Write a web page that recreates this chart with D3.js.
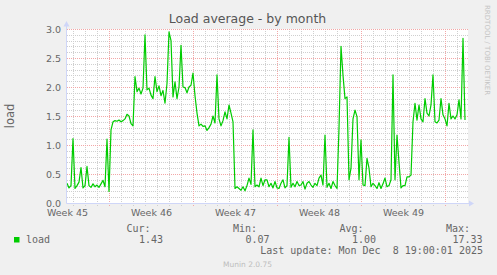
<!DOCTYPE html>
<html>
<head>
<meta charset="utf-8">
<script src="https://cdn.jsdelivr.net/npm/d3@7"></script>
<style>
  html, body { margin: 0; padding: 0; background: #f0f0f0; }
  svg { display: block; }
</style>
</head>
<body>
<div id="chart"></div>
<script>
// load average, one sample every 4 hours across the month window
const loadValues = [
  0.34, 0.26, 0.30, 1.11, 0.25, 0.30, 0.36, 0.61, 0.26, 0.30,
  0.63, 0.30, 0.27, 0.33, 0.28, 0.31, 0.27, 0.33, 0.39, 0.28,
  1.10, 0.20, 1.26, 1.40, 1.42, 1.41, 1.43, 1.40, 1.42, 1.45,
  1.53, 1.50, 1.37, 1.33, 2.18, 1.92, 1.98, 1.88, 1.98, 2.90,
  1.95, 1.98, 1.86, 1.80, 2.18, 1.92, 2.02, 1.85, 1.94, 1.72,
  2.06, 2.95, 2.80, 1.83, 2.09, 1.80, 2.00, 2.72, 2.00, 1.99,
  1.90, 2.00, 2.03, 2.24, 1.85, 1.55, 1.33, 1.36, 1.32, 1.33,
  1.25, 1.30, 1.36, 1.50, 1.38, 2.21, 1.45, 1.33, 1.42, 1.57,
  1.45, 1.69, 1.55, 1.40, 0.25, 0.28, 0.25, 0.22, 0.28, 0.21,
  0.30, 0.43, 0.32, 1.26, 0.28, 0.31, 0.28, 0.43, 0.30, 0.40,
  0.40, 0.28, 0.34, 0.26, 0.37, 0.26, 0.25, 0.34, 0.40, 0.26,
  0.30, 1.13, 0.27, 0.34, 0.28, 0.37, 0.30, 0.31, 0.37, 0.24,
  0.34, 0.37, 0.31, 0.27, 0.34, 0.30, 0.43, 0.48, 0.31, 1.17,
  0.27, 0.34, 0.25, 0.37, 0.30, 0.25, 1.29, 2.70, 2.20, 1.80,
  1.83, 0.40, 0.60, 1.45, 1.60, 1.49, 0.40, 1.09, 0.31, 0.30,
  0.77, 0.60, 0.28, 0.34, 0.30, 0.25, 0.35, 0.25, 0.33, 0.43,
  0.28, 0.30, 0.40, 2.21, 0.40, 1.17, 0.70, 0.26, 0.30, 0.30,
  0.45, 0.45, 0.48, 1.40, 1.72, 1.43, 1.69, 1.45, 1.40, 1.80,
  1.55, 1.50, 1.69, 2.21, 1.40, 1.38, 1.43, 1.80, 1.52, 1.45,
  1.33, 1.72, 1.45, 1.50, 1.45, 1.52, 1.78, 1.45, 2.84, 1.43
];
const sampleStepHours = 4;
const windowHours = 800;

const weekLabels = ["Week 45", "Week 46", "Week 47", "Week 48", "Week 49"];
const weekLabelHours = [0, 168, 336, 504, 672];
const weekBoundaryHours = [84, 252, 420, 588, 756];
const yTicks = [0, 0.5, 1, 1.5, 2, 2.5, 3];

const seriesName = "load";
const statHeads = ["Cur:", "Min:", "Avg:", "Max:"];
const statValues = ["1.43", "0.07", "1.00", "17.33"];
const lastUpdate = "Last update: Mon Dec  8 19:00:01 2025";

(function () {
  const W = 497, H = 275;
  const plot = { left: 67, right: 467, top: 29, bottom: 203 };
  const sans = "'DejaVu Sans', Verdana, sans-serif";
  const mono = "'DejaVu Sans Mono', monospace";
  const lineColor = "#00cc00";
  const axisColor = "#cfd6f8";

  const x = d3.scaleLinear().domain([0, windowHours]).range([plot.left, plot.right]);
  const y = d3.scaleLinear().domain([0, 3]).range([plot.bottom, plot.top]);

  const svg = d3
    .select("#chart")
    .append("svg")
    .attr("width", W)
    .attr("height", H);

  svg.append("rect").attr("width", W).attr("height", H).attr("fill", "#f0f0f0");
  svg
    .append("rect")
    .attr("x", plot.left)
    .attr("y", plot.top)
    .attr("width", plot.right - plot.left + 1)
    .attr("height", plot.bottom - plot.top)
    .attr("fill", "#ffffff");

  // grid: minor every 0.1 / every day, major every 0.5 / every week
  const grid = svg.append("g").attr("shape-rendering", "crispEdges");
  const hVals = d3.range(1, 31).map((i) => ({ v: i / 10, major: i % 5 === 0 }));
  const dayHours = d3.range(0, 33).map((k) => 12 + 24 * k);
  const vVals = dayHours.map((h) => ({ h: h, major: weekBoundaryHours.includes(h) }));

  const drawGrid = (major) => {
    grid
      .selectAll(null)
      .data(hVals.filter((d) => d.major === major))
      .enter()
      .append("line")
      .attr("x1", plot.left)
      .attr("x2", plot.right + 1)
      .attr("y1", (d) => Math.round(y(d.v)) + 0.5)
      .attr("y2", (d) => Math.round(y(d.v)) + 0.5)
      .attr("stroke", major ? "#f2a7a7" : "#cfcfcf")
      .attr("stroke-dasharray", "1,1");
    grid
      .selectAll(null)
      .data(vVals.filter((d) => d.major === major))
      .enter()
      .append("line")
      .attr("x1", (d) => Math.round(x(d.h)) + 0.5)
      .attr("x2", (d) => Math.round(x(d.h)) + 0.5)
      .attr("y1", plot.top)
      .attr("y2", plot.bottom + 4)
      .attr("stroke", major ? "#f2a7a7" : "#cfcfcf")
      .attr("stroke-dasharray", "1,1");
  };
  drawGrid(false);
  drawGrid(true);

  // the series line
  const line = d3
    .line()
    .x((d, i) => x(i * sampleStepHours))
    .y((d) => y(d));
  svg
    .append("path")
    .datum(loadValues)
    .attr("d", line)
    .attr("fill", "none")
    .attr("stroke", lineColor)
    .attr("stroke-width", 1.2)
    .attr("stroke-linejoin", "round");

  // axis lines + arrows
  svg
    .append("line")
    .attr("x1", plot.left - 0.5)
    .attr("x2", plot.left - 0.5)
    .attr("y1", plot.bottom + 0.5)
    .attr("y2", plot.top - 5)
    .attr("stroke", axisColor);
  svg
    .append("line")
    .attr("x1", plot.left - 0.5)
    .attr("x2", plot.right + 3)
    .attr("y1", plot.bottom + 0.5)
    .attr("y2", plot.bottom + 0.5)
    .attr("stroke", axisColor);
  svg
    .append("path")
    .attr("d", `M${plot.left - 3.5},${plot.top - 2.5}L${plot.left - 0.5},${plot.top - 8}L${plot.left + 2.5},${plot.top - 2.5}Z`)
    .attr("fill", axisColor);
  svg
    .append("path")
    .attr("d", `M${plot.right + 2},${plot.bottom - 2.5}L${plot.right + 7},${plot.bottom + 0.5}L${plot.right + 2},${plot.bottom + 3.5}Z`)
    .attr("fill", axisColor);

  // y axis tick labels
  const yAxis = svg
    .append("g")
    .attr("transform", `translate(${plot.left},0)`)
    .call(
      d3.axisLeft(y).tickValues(yTicks).tickFormat(d3.format(".1f")).tickSize(0).tickPadding(6)
    );
  yAxis.select(".domain").remove();
  yAxis
    .selectAll("text")
    .attr("fill", "#666")
    .attr("font-family", sans)
    .attr("font-size", 9.5);

  // week labels
  const xAxis = svg
    .append("g")
    .attr("transform", `translate(0,${plot.bottom})`)
    .call(
      d3
        .axisBottom(x)
        .tickValues(weekLabelHours)
        .tickFormat((d, i) => weekLabels[i])
        .tickSize(0)
        .tickPadding(6.5)
    );
  xAxis.select(".domain").remove();
  xAxis
    .selectAll("text")
    .attr("fill", "#666")
    .attr("font-family", sans)
    .attr("font-size", 9.5);

  // title, y label, watermark
  svg
    .append("text")
    .attr("x", 247.5)
    .attr("y", 23)
    .attr("text-anchor", "middle")
    .attr("font-family", sans)
    .attr("font-size", 12.5)
    .attr("fill", "#555")
    .text("Load average - by month");
  svg
    .append("text")
    .attr("transform", `translate(14,${(plot.top + plot.bottom) / 2}) rotate(-90)`)
    .attr("text-anchor", "middle")
    .attr("font-family", sans)
    .attr("font-size", 11.5)
    .attr("fill", "#666")
    .text("load");
  svg
    .append("text")
    .attr("transform", "translate(485,5) rotate(90)")
    .attr("font-family", sans)
    .attr("font-size", 7)
    .attr("fill", "#c4c4c4")
    .text("RRDTOOL / TOBI OETIKER");

  // legend
  const legend = svg.append("g").attr("font-family", mono).attr("font-size", 10).attr("fill", "#666");
  svg
    .append("rect")
    .attr("x", 14)
    .attr("y", 237)
    .attr("width", 5.5)
    .attr("height", 5.5)
    .attr("fill", lineColor);
  legend.append("text").attr("x", 26).attr("y", 242.5).text(seriesName);
  const headEnds = [150.5, 257, 363.5, 470];
  statHeads.forEach((t, i) => {
    legend
      .append("text")
      .attr("x", headEnds[i])
      .attr("y", 232)
      .attr("text-anchor", "end")
      .text(t);
    legend
      .append("text")
      .attr("x", headEnds[i] + 12.5)
      .attr("y", 242.5)
      .attr("text-anchor", "end")
      .text(statValues[i]);
  });
  legend
    .append("text")
    .attr("x", 483)
    .attr("y", 254)
    .attr("text-anchor", "end")
    .style("white-space", "pre")
    .text(lastUpdate);

  svg
    .append("text")
    .attr("x", 247.5)
    .attr("y", 267)
    .attr("text-anchor", "middle")
    .attr("font-family", sans)
    .attr("font-size", 7.5)
    .attr("fill", "#bdbdbd")
    .text("Munin 2.0.75");
})();
</script>
</body>
</html>
